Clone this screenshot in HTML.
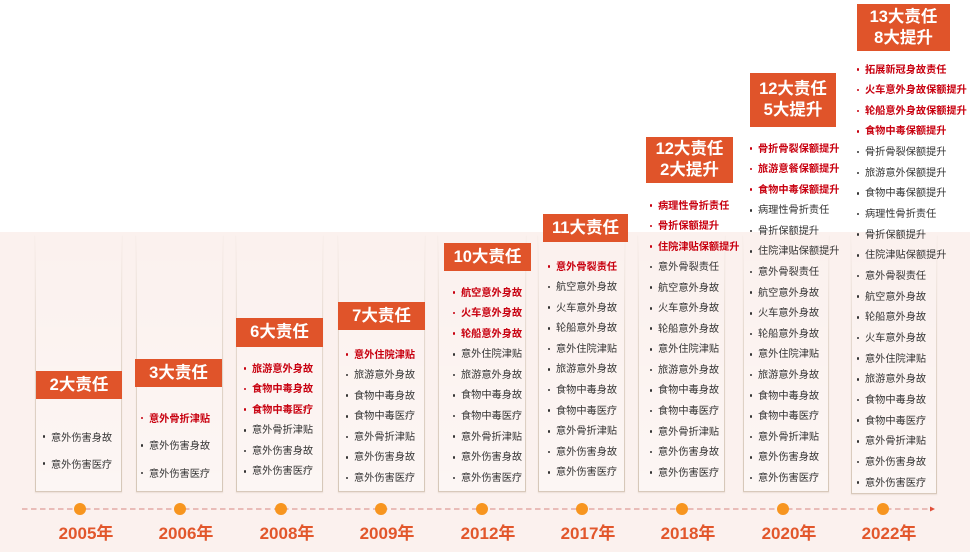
<!DOCTYPE html>
<html><head><meta charset="utf-8">
<style>
html,body{margin:0;padding:0;background:#fff;}
body{width:972px;height:557px;position:relative;overflow:hidden;font-family:"Liberation Sans","Noto Sans CJK SC",sans-serif;}
.bg{position:absolute;left:0;top:232px;width:970px;height:320px;background:#fbf1ee;}
.card{position:absolute;top:235px;border-bottom:1.5px solid #d8c9bb;background:linear-gradient(to bottom,rgba(255,255,255,0),rgba(255,255,255,0.35));box-shadow:0 1px 1px rgba(200,180,165,0.3);}
.card::before,.card::after{content:"";position:absolute;top:0;bottom:0;width:1px;background:linear-gradient(to bottom,rgba(214,199,184,0),rgba(214,199,184,0.6) 40%,#d6c7b8);}
.card::before{left:0}
.card::after{right:0}
.hd{position:absolute;background:#e0542a;color:#fff;font-weight:bold;font-size:16.5px;line-height:21px;display:flex;align-items:center;justify-content:center;text-align:center;z-index:2;}
.list{position:absolute;font-size:10.2px;line-height:20.6px;white-space:nowrap;color:#333;z-index:2;}
.list div{position:relative;}
.list div::before{content:"";position:absolute;left:-8.3px;top:calc(50% - 2.6px);width:2.6px;height:2.6px;border-radius:50%;background:#333;}
.list .r{color:#c8000f;font-weight:bold;}
.list .r::before{background:#c8000f;}
.yr{position:absolute;width:80px;text-align:center;font-size:17px;font-weight:bold;color:#e2572c;line-height:20px;top:524px;}
.dot{position:absolute;width:12px;height:12px;border-radius:50%;background:#f7951f;top:503px;z-index:3;}
</style></head><body>
<div class="bg"></div>

<!-- cards -->
<div class="card" style="left:35px;width:87px;height:256px;"></div>
<div class="card" style="left:136px;width:87px;height:256px;"></div>
<div class="card" style="left:236px;width:87px;height:256px;"></div>
<div class="card" style="left:338px;width:87px;height:256px;"></div>
<div class="card" style="left:438px;width:88px;height:256px;"></div>
<div class="card" style="left:538px;width:87px;height:256px;"></div>
<div class="card" style="left:638px;width:87px;height:256px;"></div>
<div class="card" style="left:743px;width:86px;height:256px;"></div>
<div class="card" style="left:851px;width:86px;height:258px;"></div>

<!-- headers -->
<div class="hd" style="left:36px;top:371px;width:86px;height:28px;">2大责任</div>
<div class="hd" style="left:135px;top:359px;width:87px;height:28px;">3大责任</div>
<div class="hd" style="left:236px;top:318px;width:87px;height:29px;">6大责任</div>
<div class="hd" style="left:338px;top:302px;width:87px;height:28px;">7大责任</div>
<div class="hd" style="left:444px;top:243px;width:87px;height:28px;">10大责任</div>
<div class="hd" style="left:543px;top:214px;width:85px;height:28px;">11大责任</div>
<div class="hd" style="left:646px;top:137px;width:87px;height:46px;">12大责任<br>2大提升</div>
<div class="hd" style="left:750px;top:73px;width:86px;height:54px;">12大责任<br>5大提升</div>
<div class="hd" style="left:857px;top:4px;width:93px;height:47px;">13大责任<br>8大提升</div>

<!-- lists -->
<div class="list" style="left:51px;top:424.5px;line-height:27px;">
<div>意外伤害身故</div><div>意外伤害医疗</div>
</div>
<div class="list" style="left:149px;top:405.5px;line-height:27.5px;">
<div class="r">意外骨折津贴</div><div>意外伤害身故</div><div>意外伤害医疗</div>
</div>
<div class="list" style="left:252px;top:359.5px;">
<div class="r">旅游意外身故</div><div class="r">食物中毒身故</div><div class="r">食物中毒医疗</div><div>意外骨折津贴</div><div>意外伤害身故</div><div>意外伤害医疗</div>
</div>
<div class="list" style="left:354px;top:345.5px;">
<div class="r">意外住院津贴</div><div>旅游意外身故</div><div>食物中毒身故</div><div>食物中毒医疗</div><div>意外骨折津贴</div><div>意外伤害身故</div><div>意外伤害医疗</div>
</div>
<div class="list" style="left:461px;top:283.5px;">
<div class="r">航空意外身故</div><div class="r">火车意外身故</div><div class="r">轮船意外身故</div><div>意外住院津贴</div><div>旅游意外身故</div><div>食物中毒身故</div><div>食物中毒医疗</div><div>意外骨折津贴</div><div>意外伤害身故</div><div>意外伤害医疗</div>
</div>
<div class="list" style="left:556px;top:257.5px;">
<div class="r">意外骨裂责任</div><div>航空意外身故</div><div>火车意外身故</div><div>轮船意外身故</div><div>意外住院津贴</div><div>旅游意外身故</div><div>食物中毒身故</div><div>食物中毒医疗</div><div>意外骨折津贴</div><div>意外伤害身故</div><div>意外伤害医疗</div>
</div>
<div class="list" style="left:658px;top:196.5px;line-height:20.55px;">
<div class="r">病理性骨折责任</div><div class="r">骨折保额提升</div><div class="r">住院津贴保额提升</div><div>意外骨裂责任</div><div>航空意外身故</div><div>火车意外身故</div><div>轮船意外身故</div><div>意外住院津贴</div><div>旅游意外身故</div><div>食物中毒身故</div><div>食物中毒医疗</div><div>意外骨折津贴</div><div>意外伤害身故</div><div>意外伤害医疗</div>
</div>
<div class="list" style="left:758px;top:139.5px;">
<div class="r">骨折骨裂保额提升</div><div class="r">旅游意餐保额提升</div><div class="r">食物中毒保额提升</div><div>病理性骨折责任</div><div>骨折保额提升</div><div>住院津贴保额提升</div><div>意外骨裂责任</div><div>航空意外身故</div><div>火车意外身故</div><div>轮船意外身故</div><div>意外住院津贴</div><div>旅游意外身故</div><div>食物中毒身故</div><div>食物中毒医疗</div><div>意外骨折津贴</div><div>意外伤害身故</div><div>意外伤害医疗</div>
</div>
<div class="list" style="left:865px;top:60.5px;line-height:20.65px;">
<div class="r">拓展新冠身故责任</div><div class="r">火车意外身故保额提升</div><div class="r">轮船意外身故保额提升</div><div class="r">食物中毒保额提升</div><div>骨折骨裂保额提升</div><div>旅游意外保额提升</div><div>食物中毒保额提升</div><div>病理性骨折责任</div><div>骨折保额提升</div><div>住院津贴保额提升</div><div>意外骨裂责任</div><div>航空意外身故</div><div>轮船意外身故</div><div>火车意外身故</div><div>意外住院津贴</div><div>旅游意外身故</div><div>食物中毒身故</div><div>食物中毒医疗</div><div>意外骨折津贴</div><div>意外伤害身故</div><div>意外伤害医疗</div>
</div>

<!-- timeline -->
<svg style="position:absolute;left:0;top:0;z-index:1" width="972" height="557">
<line x1="22" y1="509" x2="930" y2="509" stroke="#e3aaa6" stroke-width="1.6" stroke-dasharray="5.5 3.5"/>
<polygon points="930,506.5 935,509 930,511.5" fill="#e0503a"/>
</svg>
<div class="dot" style="left:74px"></div>
<div class="dot" style="left:174px"></div>
<div class="dot" style="left:275px"></div>
<div class="dot" style="left:375px"></div>
<div class="dot" style="left:476px"></div>
<div class="dot" style="left:576px"></div>
<div class="dot" style="left:676px"></div>
<div class="dot" style="left:777px"></div>
<div class="dot" style="left:877px"></div>

<div class="yr" style="left:46px">2005年</div>
<div class="yr" style="left:146px">2006年</div>
<div class="yr" style="left:247px">2008年</div>
<div class="yr" style="left:347px">2009年</div>
<div class="yr" style="left:448px">2012年</div>
<div class="yr" style="left:548px">2017年</div>
<div class="yr" style="left:648px">2018年</div>
<div class="yr" style="left:749px">2020年</div>
<div class="yr" style="left:849px">2022年</div>
</body></html>
